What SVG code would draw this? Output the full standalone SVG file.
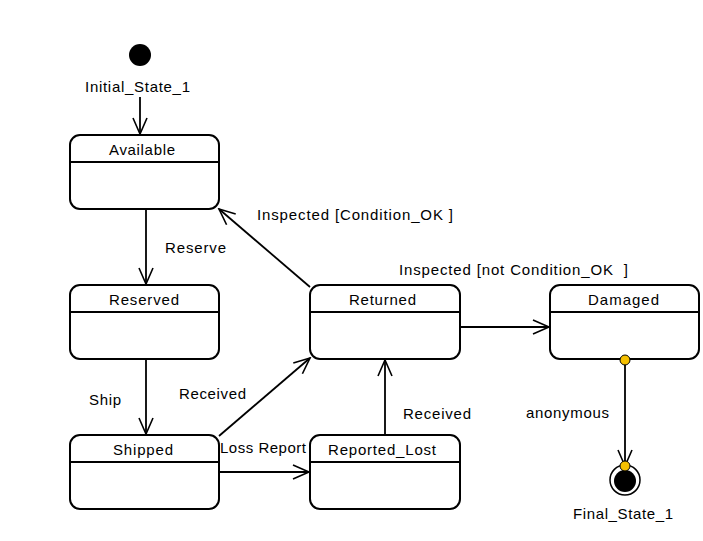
<svg xmlns="http://www.w3.org/2000/svg" width="703" height="541" viewBox="0 0 703 541">
<defs>
<marker id="arr" viewBox="0 0 20 20" refX="18" refY="10" markerWidth="20" markerHeight="20" markerUnits="userSpaceOnUse" orient="auto">
<path d="M2,3 L18,10 L2,17" fill="none" stroke="#000" stroke-width="1.6"/>
</marker>
<style>
.st{fill:#fff;stroke:#000;stroke-width:2}
.dv{stroke:#000;stroke-width:2}
text{font-family:"Liberation Sans",Arial,sans-serif;font-size:15px;fill:#000}
.c{text-anchor:middle}
.ln{fill:none;stroke:#000;stroke-width:1.8;marker-end:url(#arr)}
.dot{fill:#f5c000;stroke:#000;stroke-width:1}
</style>
</defs>
<rect width="703" height="541" fill="#fff"/>
<g id="connectors">
<line class="ln" x1="140" y1="97" x2="140" y2="134"/>
<line class="ln" x1="146" y1="210" x2="146" y2="284"/>
<text x="165" y="253" textLength="61" lengthAdjust="spacing">Reserve</text>
<line class="ln" x1="146" y1="360" x2="146" y2="434"/>
<text x="89" y="405" textLength="32" lengthAdjust="spacing">Ship</text>
<line class="ln" x1="219" y1="436" x2="310" y2="358"/>
<text x="179" y="399" textLength="67" lengthAdjust="spacing">Received</text>
<line class="ln" x1="220" y1="472" x2="309" y2="472"/>
<text x="220" y="453" textLength="86" lengthAdjust="spacing">Loss Report</text>
<line class="ln" x1="385" y1="435" x2="385" y2="360"/>
<text x="403" y="419" textLength="68" lengthAdjust="spacing">Received</text>
<line class="ln" x1="310" y1="287" x2="219" y2="209"/>
<text x="257" y="220" textLength="196" lengthAdjust="spacing">Inspected [Condition_OK ]</text>
<line class="ln" x1="461" y1="327" x2="549" y2="327"/>
<text x="399" y="275" xml:space="preserve" textLength="229" lengthAdjust="spacing">Inspected [not Condition_OK  ]</text>
<line class="ln" x1="625" y1="360" x2="625" y2="466"/>
<text x="526" y="418" textLength="83" lengthAdjust="spacing">anonymous</text>
</g>
<g id="Initial_State_1">
<circle cx="140" cy="55" r="11" fill="#000"/>
<text x="85" y="92" textLength="105" lengthAdjust="spacing">Initial_State_1</text>
</g>
<g id="Available">
<rect class="st" x="70" y="135" width="149" height="74" rx="10"/>
<line class="dv" x1="70" y1="162" x2="219" y2="162"/>
<text x="109" y="155" textLength="66" lengthAdjust="spacing">Available</text>
</g>
<g id="Reserved">
<rect class="st" x="70" y="285" width="149" height="74" rx="10"/>
<line class="dv" x1="70" y1="312" x2="219" y2="312"/>
<text x="109" y="305" textLength="70" lengthAdjust="spacing">Reserved</text>
</g>
<g id="Shipped">
<rect class="st" x="70" y="435" width="149" height="74" rx="10"/>
<line class="dv" x1="70" y1="462" x2="219" y2="462"/>
<text x="113" y="455" textLength="60" lengthAdjust="spacing">Shipped</text>
</g>
<g id="Returned">
<rect class="st" x="310" y="285" width="150" height="74" rx="10"/>
<line class="dv" x1="310" y1="312" x2="460" y2="312"/>
<text x="349" y="305" textLength="67" lengthAdjust="spacing">Returned</text>
</g>
<g id="Damaged">
<rect class="st" x="550" y="285" width="149" height="74" rx="10"/>
<line class="dv" x1="550" y1="312" x2="699" y2="312"/>
<text x="588" y="305" textLength="71" lengthAdjust="spacing">Damaged</text>
</g>
<g id="Reported_Lost">
<rect class="st" x="310" y="435" width="150" height="74" rx="10"/>
<line class="dv" x1="310" y1="462" x2="460" y2="462"/>
<text x="328" y="455" textLength="108" lengthAdjust="spacing">Reported_Lost</text>
</g>
<g id="Final_State_1">
<circle cx="625" cy="480" r="15" fill="#fff" stroke="#000" stroke-width="1.5"/>
<circle cx="625" cy="481" r="11" fill="#000"/>
<text x="573" y="519" textLength="100" lengthAdjust="spacing">Final_State_1</text>
</g>
<circle class="dot" cx="625" cy="360" r="5"/>
<circle class="dot" cx="625" cy="466" r="5"/>
</svg>
